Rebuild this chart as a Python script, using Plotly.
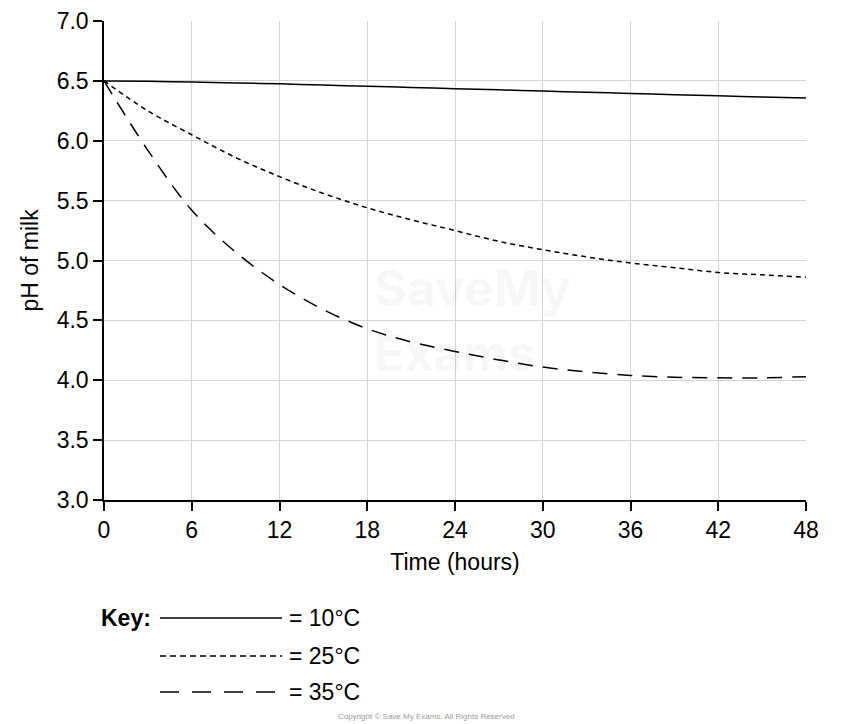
import plotly.graph_objects as go

time_h = [0, 3, 6, 9, 12, 15, 18, 21, 24, 27, 30, 33, 36, 39, 42, 45, 48]
ph_10 = [6.50, 6.497, 6.49, 6.483, 6.475, 6.465, 6.455, 6.445, 6.435, 6.425, 6.415, 6.405, 6.395, 6.385, 6.375, 6.365, 6.357]
ph_25 = [6.50, 6.25, 6.05, 5.86, 5.70, 5.56, 5.44, 5.34, 5.25, 5.16, 5.09, 5.03, 4.98, 4.94, 4.90, 4.88, 4.86]
ph_35 = [6.50, 5.92, 5.42, 5.07, 4.80, 4.59, 4.43, 4.32, 4.24, 4.17, 4.11, 4.07, 4.04, 4.025, 4.02, 4.02, 4.03]
x_ticks = [0, 6, 12, 18, 24, 30, 36, 42, 48]
y_ticks = [3.0, 3.5, 4.0, 4.5, 5.0, 5.5, 6.0, 6.5, 7.0]
key_labels = ["= 10°C", "= 25°C", "= 35°C"]
dashes = ["solid", "5px,4px", "15px,10px"]
key_dashes = ["solid", "6px,4px", "19px,13px"]

FONT = "Liberation Sans, Arial, sans-serif"

# Page body has an 8px offset; plot area in screen coords: x 104..806, y 21..500
OFF = 8
PL, PR, PT, PB = 104, 806, 21, 500

fig = go.Figure()
for ys, d in zip([ph_10, ph_25, ph_35], dashes):
    fig.add_trace(go.Scatter(x=time_h, y=ys, mode="lines",
                             line=dict(color="black", width=1.5, dash=d, shape="spline"),
                             showlegend=False))

fig.update_layout(
    width=854 - OFF, height=724 - OFF,
    margin=dict(l=PL - OFF, r=854 - PR, t=PT - OFF, b=724 - PB, autoexpand=False),
    plot_bgcolor="white", paper_bgcolor="white",
    font=dict(family=FONT, size=23, color="black"),
    xaxis=dict(range=[0, 48], tickvals=x_ticks, ticktext=[str(v) for v in x_ticks],
               showgrid=True, gridcolor="#d4d4d4", gridwidth=1,
               showline=True, linecolor="black", linewidth=1.5,
               ticks="outside", ticklen=9, tickcolor="black", tickwidth=1.5,
               tickfont=dict(size=23),
               title=dict(text="Time (hours)", font=dict(size=23), standoff=12),
               zeroline=False),
    yaxis=dict(range=[3.0, 7.0], tickvals=y_ticks, ticktext=[f"{v:.1f}" for v in y_ticks],
               showgrid=True, gridcolor="#d4d4d4", gridwidth=1,
               showline=True, linecolor="black", linewidth=1.5,
               ticks="outside", ticklen=9, tickcolor="black", tickwidth=1.5,
               tickfont=dict(size=23),
               title=dict(text="pH of milk", font=dict(size=23), standoff=12),
               zeroline=False),
)

def px_x(sx):
    return (sx - PL) / (PR - PL)

def px_y(sy):
    return (PB - sy) / (PB - PT)

# watermark
fig.add_annotation(x=px_x(372), y=px_y(320), xref="paper", yref="paper", xanchor="left", yanchor="middle",
                   text="<b>SaveMy<br>Exams</b>", showarrow=False, align="left",
                   font=dict(size=50, color="rgba(0,0,0,0.035)", family="Inter, sans-serif"))

# Key
fig.add_annotation(x=px_x(99), y=px_y(618), xref="paper", yref="paper", xanchor="left", yanchor="middle",
                   text="<b>Key:</b>", showarrow=False, font=dict(size=23))
for lab, d, yy in zip(key_labels, key_dashes, [618, 656, 692]):
    fig.add_shape(type="line", xref="paper", yref="paper", x0=px_x(160), x1=px_x(282),
                  y0=px_y(yy), y1=px_y(yy), line=dict(color="black", width=1.5, dash=d))
    fig.add_annotation(x=px_x(287), y=px_y(yy), xref="paper", yref="paper", xanchor="left", yanchor="middle",
                       text=lab, showarrow=False, font=dict(size=23))

fig.add_annotation(x=px_x(426), y=px_y(716), xref="paper", yref="paper", xanchor="center", yanchor="middle",
                   text="Copyright © Save My Exams. All Rights Reserved", showarrow=False,
                   font=dict(size=8, color="#999999"))

fig.write_html("out.html")
